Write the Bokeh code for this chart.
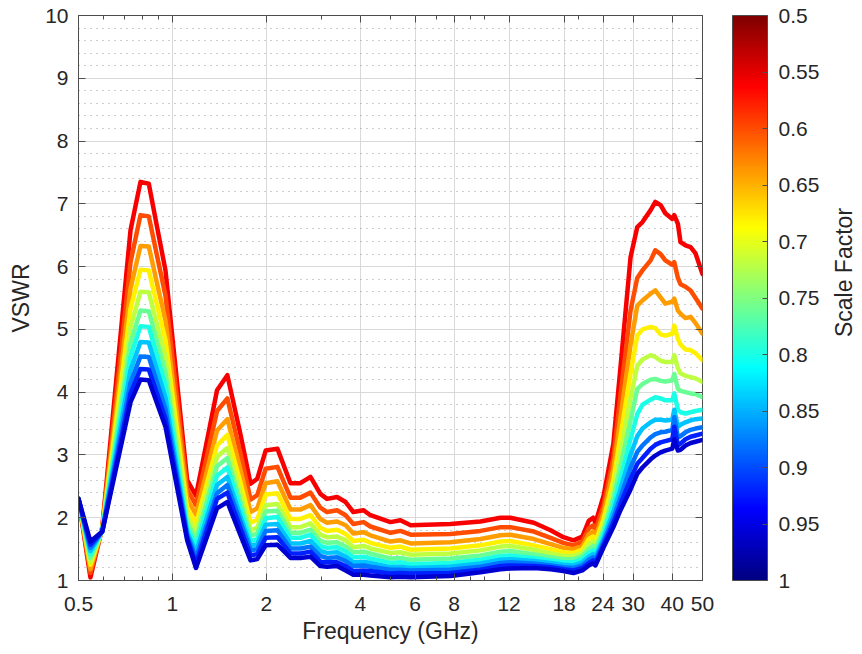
import math
from bokeh.plotting import figure
from bokeh.layouts import row
from bokeh.models import (ColumnDataSource, LogAxis, LinearAxis, FixedTicker, LinearColorMapper,
                          ColorBar, CustomJSTickFormatter, Range1d, AllLabels)
from bokeh.core.properties import value
from bokeh.transform import transform
from bokeh.embed import file_html
from bokeh.resources import INLINE

# ---------------- data ----------------
freq_ghz = [0.5, 0.546, 0.596, 0.734, 0.79, 0.84, 0.893, 0.95, 1.115, 1.19,
            1.39, 1.5, 1.65, 1.78, 1.87, 1.99, 2.17, 2.39, 2.57, 2.77,
            2.98, 3.13, 3.37, 3.59, 3.8, 4.1, 4.31, 5.0, 5.38, 5.8,
            7.78, 9.71, 11.26, 12.1, 14.4, 16.3, 17.9, 19.3,
            20.6, 21.6, 22.3, 22.7, 24.1, 25.9, 27.3, 29.4, 30.9, 32.1, 34.1, 35.3,
            36.7, 38.0, 40.0, 40.6, 41.7, 42.5, 44.1, 45.8, 47.5, 50.0]

scale_factor = [0.56, 0.60, 0.64, 0.68, 0.72, 0.76, 0.80, 0.84, 0.88, 0.92, 0.96]

vswr_056 = [2.30, 1.05, 1.85, 6.58, 7.35, 7.32, 6.63, 5.94, 2.60, 2.35,
            4.03, 4.27, 3.34, 2.54, 2.62, 3.07, 3.10, 2.55, 2.55, 2.65,
            2.38, 2.30, 2.33, 2.25, 2.09, 2.12, 2.04, 1.93, 1.96, 1.88,
            1.90, 1.94, 2.00, 2.00, 1.92, 1.80, 1.69, 1.64,
            1.70, 1.95, 2.00, 1.92, 2.35, 3.18, 4.40, 6.15, 6.63, 6.71, 6.90, 7.03,
            6.98, 6.85, 6.76, 6.82, 6.68, 6.39, 6.34, 6.31, 6.21, 5.88]
vswr_060 = [2.30, 1.12, 1.84, 6.07, 6.82, 6.80, 6.17, 5.54, 2.45, 2.20,
            3.70, 3.90, 3.04, 2.29, 2.36, 2.78, 2.81, 2.32, 2.32, 2.40,
            2.16, 2.09, 2.12, 2.04, 1.90, 1.93, 1.86, 1.76, 1.79, 1.73,
            1.74, 1.79, 1.85, 1.85, 1.78, 1.68, 1.60, 1.56,
            1.62, 1.83, 1.88, 1.80, 2.20, 2.95, 3.95, 5.30, 5.82, 5.94, 6.10, 6.26,
            6.20, 6.10, 6.03, 6.07, 5.82, 5.72, 5.68, 5.62, 5.50, 5.33]
vswr_064 = [2.30, 1.18, 1.83, 5.65, 6.33, 6.32, 5.73, 5.14, 2.30, 2.05,
            3.39, 3.57, 2.78, 2.09, 2.15, 2.55, 2.58, 2.13, 2.13, 2.20,
            1.98, 1.92, 1.94, 1.88, 1.75, 1.77, 1.72, 1.62, 1.64, 1.59,
            1.61, 1.66, 1.72, 1.73, 1.66, 1.58, 1.52, 1.50,
            1.55, 1.74, 1.78, 1.70, 2.08, 2.78, 3.60, 4.75, 5.38, 5.46, 5.57, 5.62,
            5.51, 5.41, 5.44, 5.49, 5.30, 5.25, 5.18, 5.20, 5.10, 4.93]
vswr_068 = [2.30, 1.25, 1.82, 5.33, 5.95, 5.94, 5.39, 4.83, 2.15, 1.90,
            3.15, 3.32, 2.57, 1.92, 1.97, 2.37, 2.39, 1.98, 1.98, 2.04,
            1.84, 1.79, 1.81, 1.74, 1.63, 1.65, 1.60, 1.52, 1.54, 1.49,
            1.51, 1.56, 1.62, 1.63, 1.56, 1.50, 1.45, 1.44,
            1.49, 1.66, 1.70, 1.62, 1.98, 2.60, 3.30, 4.30, 4.90, 5.00, 5.04, 5.02,
            4.92, 4.90, 4.93, 5.06, 4.85, 4.76, 4.68, 4.67, 4.62, 4.51]
vswr_072 = [2.30, 1.30, 1.81, 5.03, 5.60, 5.59, 5.07, 4.55, 2.02, 1.77,
            2.97, 3.11, 2.40, 1.80, 1.84, 2.20, 2.22, 1.85, 1.85, 1.91,
            1.73, 1.69, 1.70, 1.64, 1.53, 1.55, 1.51, 1.44, 1.45, 1.41,
            1.43, 1.48, 1.54, 1.55, 1.49, 1.43, 1.39, 1.39,
            1.44, 1.58, 1.62, 1.56, 1.88, 2.45, 3.05, 3.90, 4.42, 4.52, 4.59, 4.56,
            4.50, 4.48, 4.48, 4.59, 4.38, 4.30, 4.26, 4.24, 4.22, 4.16]
vswr_076 = [2.30, 1.36, 1.80, 4.78, 5.30, 5.29, 4.80, 4.31, 1.92, 1.65,
            2.82, 2.95, 2.26, 1.71, 1.75, 2.10, 2.11, 1.76, 1.76, 1.81,
            1.63, 1.60, 1.61, 1.54, 1.45, 1.46, 1.43, 1.35, 1.36, 1.33,
            1.35, 1.40, 1.46, 1.47, 1.42, 1.37, 1.34, 1.34,
            1.39, 1.50, 1.55, 1.50, 1.80, 2.32, 2.82, 3.55, 4.05, 4.13, 4.20, 4.21,
            4.18, 4.17, 4.19, 4.29, 4.05, 4.02, 4.00, 3.98, 3.97, 3.92]
vswr_080 = [2.30, 1.42, 1.80, 4.56, 5.05, 5.04, 4.57, 4.11, 1.84, 1.55,
            2.67, 2.80, 2.15, 1.63, 1.66, 1.99, 2.01, 1.68, 1.68, 1.73,
            1.55, 1.52, 1.53, 1.46, 1.37, 1.38, 1.35, 1.28, 1.29, 1.26,
            1.28, 1.33, 1.39, 1.40, 1.36, 1.32, 1.29, 1.29,
            1.34, 1.44, 1.48, 1.44, 1.73, 2.20, 2.62, 3.25, 3.65, 3.80, 3.88, 3.92,
            3.90, 3.87, 3.87, 3.98, 3.72, 3.68, 3.66, 3.68, 3.70, 3.72]
vswr_084 = [2.30, 1.47, 1.79, 4.35, 4.80, 4.79, 4.35, 3.91, 1.77, 1.45,
            2.52, 2.65, 2.03, 1.55, 1.58, 1.89, 1.90, 1.59, 1.59, 1.63,
            1.47, 1.44, 1.45, 1.38, 1.29, 1.30, 1.28, 1.21, 1.22, 1.20,
            1.22, 1.27, 1.33, 1.34, 1.31, 1.28, 1.25, 1.24,
            1.29, 1.38, 1.42, 1.38, 1.67, 2.10, 2.46, 3.00, 3.30, 3.42, 3.52, 3.56,
            3.56, 3.55, 3.56, 3.72, 3.45, 3.48, 3.52, 3.55, 3.57, 3.58]
vswr_088 = [2.30, 1.52, 1.79, 4.15, 4.57, 4.56, 4.15, 3.73, 1.72, 1.36,
            2.39, 2.52, 1.94, 1.48, 1.50, 1.79, 1.80, 1.51, 1.51, 1.54,
            1.39, 1.36, 1.37, 1.31, 1.23, 1.24, 1.22, 1.17, 1.17, 1.16,
            1.17, 1.22, 1.28, 1.29, 1.27, 1.24, 1.21, 1.20,
            1.24, 1.33, 1.37, 1.33, 1.62, 2.00, 2.33, 2.80, 3.05, 3.15, 3.28, 3.33,
            3.36, 3.37, 3.40, 3.60, 3.28, 3.30, 3.36, 3.40, 3.42, 3.44]
vswr_092 = [2.30, 1.57, 1.78, 3.98, 4.37, 4.36, 3.97, 3.58, 1.68, 1.27,
            2.30, 2.40, 1.84, 1.40, 1.42, 1.68, 1.69, 1.43, 1.43, 1.46,
            1.30, 1.29, 1.29, 1.23, 1.15, 1.16, 1.15, 1.11, 1.12, 1.11,
            1.12, 1.17, 1.23, 1.24, 1.23, 1.21, 1.18, 1.16,
            1.20, 1.28, 1.32, 1.28, 1.57, 1.92, 2.22, 2.62, 2.86, 2.95, 3.10, 3.16,
            3.20, 3.22, 3.25, 3.45, 3.15, 3.18, 3.25, 3.29, 3.31, 3.34]
vswr_096 = [2.30, 1.62, 1.78, 3.84, 4.20, 4.19, 3.82, 3.45, 1.64, 1.20,
            2.15, 2.25, 1.73, 1.32, 1.34, 1.56, 1.57, 1.36, 1.36, 1.38,
            1.23, 1.22, 1.23, 1.16, 1.09, 1.09, 1.08, 1.05, 1.06, 1.05,
            1.07, 1.13, 1.18, 1.19, 1.20, 1.18, 1.15, 1.12,
            1.16, 1.24, 1.27, 1.24, 1.53, 1.85, 2.12, 2.45, 2.70, 2.80, 2.93, 2.99,
            3.04, 3.07, 3.10, 3.25, 3.07, 3.08, 3.15, 3.19, 3.21, 3.24]

x_ticks = [0.5, 1, 2, 4, 6, 8, 12, 18, 24, 30, 40, 50]
x_minor_ticks = [0.6, 0.7, 0.8, 0.9, 3, 5, 7, 9, 10, 20]
y_ticks = [1, 2, 3, 4, 5, 6, 7, 8, 9, 10]
y_minor_ticks = [v / 10 for v in range(10, 101, 2) if v % 10 != 0]
cbar_ticks = [0.5, 0.55, 0.6, 0.65, 0.7, 0.75, 0.8, 0.85, 0.9, 0.95, 1.0]
cbar_title = "Scale Factor"

series = [vswr_056, vswr_060, vswr_064, vswr_068, vswr_072, vswr_076,
          vswr_080, vswr_084, vswr_088, vswr_092, vswr_096]

# ---------------- style / layout ----------------
FONT = "Liberation Sans"
TXT = "#262626"
AX = "#4d4d4d"
W, H = 824, 654          # main figure canvas
TW = 862 - W             # strip holding the colour-bar title
BL, BT, FW, FH = 78, 15, 624, 565
BR = W - BL - FW
BB = H - BT - FH


def _jet(t):
    c = lambda v: max(0.0, min(1.0, v))
    r = c(1.5 - abs(4 * t - 3))
    g = c(1.5 - abs(4 * t - 2))
    b = c(1.5 - abs(4 * t - 1))
    return "#%02x%02x%02x" % (round(r * 255), round(g * 255), round(b * 255))


jet256 = [_jet(i / 255) for i in range(256)]
# scale-factor axis runs downward (0.5 top, 1 bottom): map the negated value
mapper = LinearColorMapper(palette=jet256, low=-1.0, high=-0.5)

src = ColumnDataSource(dict(
    xs=[freq_ghz for _ in series],
    ys=series,
    neg_sf=[-s for s in scale_factor],
))

p = figure(x_axis_type="log", x_range=Range1d(0.5, 50), y_range=Range1d(1, 10),
           width=W, height=H,
           min_border_left=BL, min_border_right=BR, min_border_top=BT, min_border_bottom=BB,
           output_backend="svg", toolbar_location=None,
           background_fill_color="white", border_fill_color="white")
p.outline_line_color = AX
p.outline_line_width = 1

p.multi_line("xs", "ys", source=src, line_color=transform("neg_sf", mapper),
             line_width=4.5, line_join="round", line_cap="round")

# axes
xa = p.xaxis[0]
xa.ticker = FixedTicker(ticks=x_ticks, minor_ticks=x_minor_ticks)
xa.formatter = CustomJSTickFormatter(code="return String(tick)")
xa.axis_label = "Frequency (GHz)"
ya = p.yaxis[0]
ya.ticker = FixedTicker(ticks=y_ticks, minor_ticks=y_minor_ticks)
ya.axis_label = "VSWR"

for ax in (xa, ya):
    ax.axis_line_color = AX
    ax.major_tick_line_color = AX
    ax.major_tick_in = 7
    ax.major_tick_out = 0
    ax.minor_tick_in = 4
    ax.minor_tick_out = 0
    ax.minor_tick_line_color = AX
    ax.major_label_text_font = FONT
    ax.major_label_text_font_size = "21px"
    ax.major_label_text_color = TXT
    ax.axis_label_text_font = FONT
    ax.axis_label_text_font_size = "23px"
    ax.axis_label_text_font_style = "normal"
    ax.axis_label_text_color = TXT
ya.minor_tick_line_color = None
xa.major_label_standoff = 16
xa.axis_label_standoff = 4
ya.major_label_standoff = 10
ya.axis_label_standoff = 8

# box ticks on top and right
top = LogAxis(ticker=FixedTicker(ticks=x_ticks, minor_ticks=x_minor_ticks),
              formatter=CustomJSTickFormatter(code="return ''"),
              axis_line_color=None, major_tick_line_color=AX, minor_tick_line_color=AX,
              major_tick_in=7, major_tick_out=0, minor_tick_in=4, minor_tick_out=0,
              major_label_standoff=0)
p.add_layout(top, "above")
right = LinearAxis(ticker=FixedTicker(ticks=y_ticks, minor_ticks=[]),
                   formatter=CustomJSTickFormatter(code="return ''"),
                   axis_line_color=None, major_tick_line_color=AX, minor_tick_line_color=None,
                   major_tick_in=7, major_tick_out=0, major_label_standoff=0)
p.add_layout(right, "right")
# invisible spacer: gap between plot box and colour bar
spacer = LinearAxis(ticker=FixedTicker(ticks=y_ticks, minor_ticks=[]),
                    formatter=CustomJSTickFormatter(code="return ''"),
                    axis_line_color=None, major_tick_line_color=None, minor_tick_line_color=None,
                    major_tick_in=0, major_tick_out=30, major_label_standoff=0)
p.add_layout(spacer, "right")

# grid
p.xgrid.grid_line_color = "#d9d9d9"
p.ygrid.grid_line_color = "#d9d9d9"
p.ygrid.minor_grid_line_color = "#9a9a9a"
p.ygrid.minor_grid_line_dash = "1 5"

# colour bar
cb = ColorBar(color_mapper=mapper,
              ticker=FixedTicker(ticks=[-v for v in cbar_ticks]),
              formatter=CustomJSTickFormatter(code="return String(Math.round(-tick*100)/100)"),
              major_label_policy=AllLabels(),
              width=35, height=FH, padding=0, margin=0,
              major_label_text_font=FONT, major_label_text_font_size="21px",
              major_label_text_color=TXT, label_standoff=11,
              major_tick_line_color=AX, major_tick_in=5, major_tick_out=0,
              bar_line_color=AX, border_line_color=None, background_fill_alpha=0)
p.add_layout(cb, "right")

# colour-bar title strip
t = figure(width=TW, height=H, x_range=Range1d(0, 1), y_range=Range1d(0, H),
           min_border_left=0, min_border_right=0, min_border_top=0, min_border_bottom=0,
           output_backend="svg", toolbar_location=None,
           background_fill_color="white", border_fill_color="white")
t.axis.visible = False
t.grid.visible = False
t.outline_line_color = None
t.text(x=[0.5], y=[H - BT - FH / 2], text=[cbar_title], angle=math.pi / 2,
       text_align="center", text_baseline="middle",
       text_font=value(FONT), text_font_size="23px", text_color=TXT)

layout = row(p, t, spacing=0)
open("out.html", "w").write(file_html(layout, INLINE))
